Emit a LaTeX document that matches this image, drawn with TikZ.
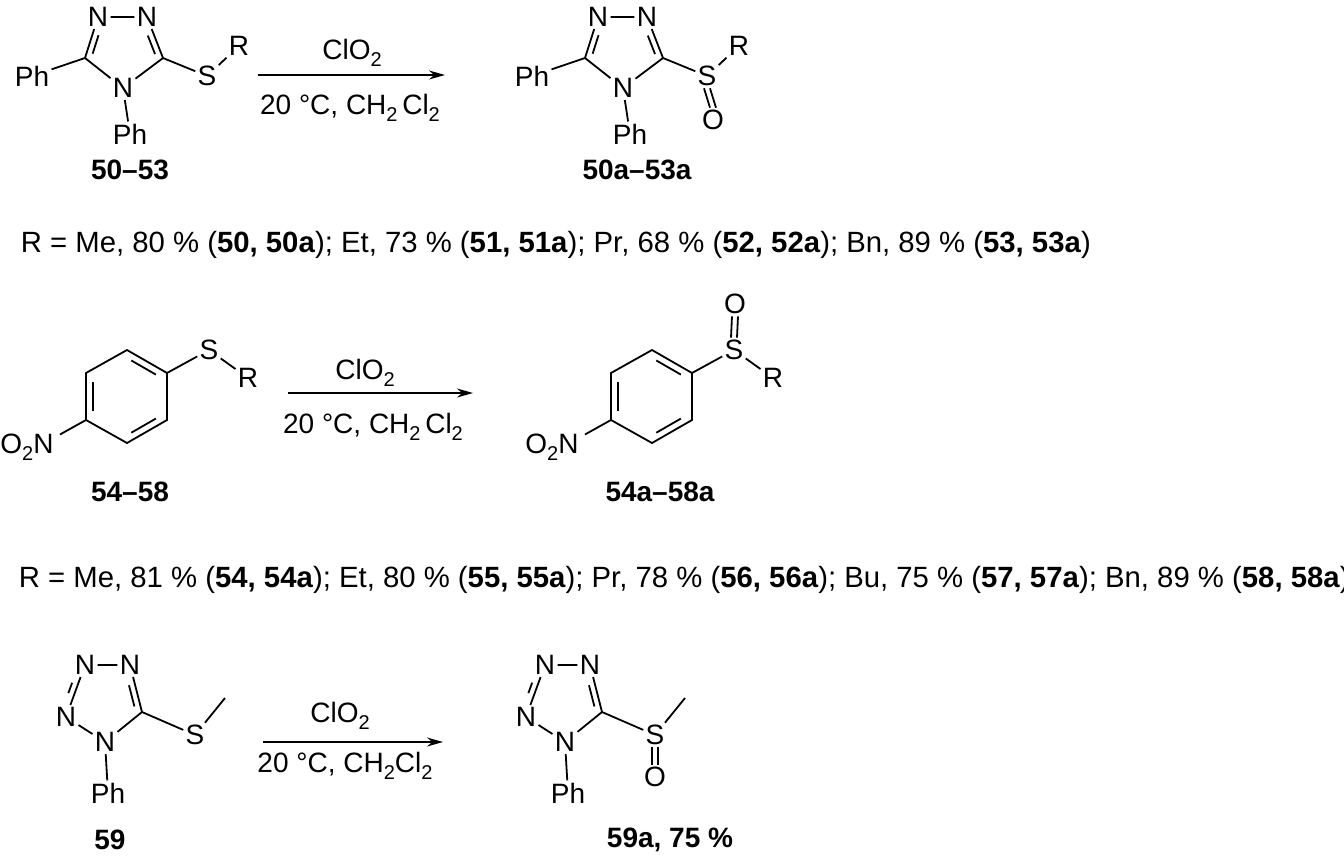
\documentclass[tikz,border=0pt]{standalone}
\usepackage{fontspec}
\setmainfont{Liberation Sans}
\usetikzlibrary{calc,arrows.meta}
\newcommand{\chsub}[1]{\raisebox{-0.45ex}{\fontsize{20}{20}\selectfont #1}}
\begin{document}
\begin{tikzpicture}[x=1pt,y=-1pt,line width=1.8pt,
  atom/.style={inner sep=1.5pt,font=\fontsize{28}{30}\selectfont},
  lab/.style={inner sep=0pt,font=\fontsize{28}{30}\selectfont\bfseries},
  txt/.style={inner sep=0pt,font=\fontsize{28}{30}\selectfont},
  line/.style={inner sep=0pt,font=\fontsize{29.3}{31}\selectfont},
  rxn/.style={-{Stealth[length=16pt,width=9pt]},line width=1.4pt}]
\useasboundingbox (0,0) rectangle (1344,860);
\fill[white] (0,0) rectangle (1344,860);
% ---------- triazoles
\foreach \pre/\dx in {a/0,b/500}{
\begin{scope}[shift={(\dx,0)},name prefix=\pre-]
\node[atom] (N1) at (98,17) {N};
\node[atom] (N2) at (147,17) {N};
\coordinate (C3) at (85,58);
\coordinate (C5) at (163,58);
\node[atom] (N4) at (123,88) {N};
\node[atom] (Pa) at (32,76) {Ph};
\node[atom] (Pb) at (130,134) {Ph};
\node[atom] (S) at (207,76) {S};
\node[atom] (R) at (239,46) {R};
\draw (N1)--(N2) (N1)--(C3) (N2)--(C5) (C3)--(N4) (C5)--(N4) (C3)--(Pa) (N4)--(Pb) (C5)--(S) (S)--(R);
\draw ($(C3)!0.15!(N1)!6pt!-90:(N1)$) -- ($(C3)!0.6!(N1)!6pt!-90:(N1)$);
\draw ($(C5)!0.15!(N2)!6pt!90:(N2)$) -- ($(C5)!0.6!(N2)!6pt!90:(N2)$);
\end{scope}}
\node[atom] (bO) at (713,120) {O};
\draw ([xshift=-3pt]b-S.south) -- ([xshift=-3pt]bO.north) ([xshift=3pt]b-S.south) -- ([xshift=3pt]bO.north);
\node[lab] (l1) at (130,170) {50–53};
\node[lab] (l2) at (637,170) {50a–53a};
\coordinate (a1) at (258,75); \coordinate (a2) at (445,75);
\draw[rxn] (a1) -- (a2);
\node[txt] (c1) at (352,53) {ClO\chsub{2}};
\node[txt] (d1) at (350,108) {20 °C, CH\chsub{2}\,Cl\chsub{2}};
\node[line,anchor=west] (t1) at (20,245) {R = Me, 80 \% (\textbf{50, 50a}); Et, 73 \% (\textbf{51, 51a}); Pr, 68 \% (\textbf{52, 52a}); Bn, 89 \% (\textbf{53, 53a})};
% ---------- benzenes
\foreach \pre/\dx in {c/0,d/525}{
\begin{scope}[shift={(\dx,0)},name prefix=\pre-]
\coordinate (r1) at (127,350); \coordinate (r2) at (167,373); \coordinate (r3) at (167,420);
\coordinate (r4) at (127,443); \coordinate (r5) at (86,420); \coordinate (r6) at (86,373);
\coordinate (ce) at (127,397);
\draw (r1)--(r2)--(r3)--(r4)--(r5)--(r6)--cycle;
\draw ($(ce)!0.83!(r1)!0.13!($(ce)!0.83!(r2)$)$) -- ($(ce)!0.83!(r1)!0.87!($(ce)!0.83!(r2)$)$);
\draw ($(ce)!0.83!(r5)!0.13!($(ce)!0.83!(r6)$)$) -- ($(ce)!0.83!(r5)!0.87!($(ce)!0.83!(r6)$)$);
\draw ($(ce)!0.83!(r3)!0.13!($(ce)!0.83!(r4)$)$) -- ($(ce)!0.83!(r3)!0.87!($(ce)!0.83!(r4)$)$);
\node[atom] (S) at (209,350) {S};
\node[atom] (R) at (248,378) {R};
\node[atom] (N) at (27,447) {O\chsub{2}N};
\draw (r2)--(S) (S)--(R) (r5)--([xshift=4pt,yshift=-3pt]N.north east);
\end{scope}}
\node[atom] (dO) at (735,304) {O};
\draw ([xshift=-3pt]d-S.north) -- ([xshift=-3pt]dO.south) ([xshift=3pt]d-S.north) -- ([xshift=3pt]dO.south);
\node[lab] (l3) at (130,492) {54–58};
\node[lab] (l4) at (660,492) {54a–58a};
\coordinate (a3) at (288,393); \coordinate (a4) at (473,393);
\draw[rxn] (a3) -- (a4);
\node[txt] (c2) at (365,373) {ClO\chsub{2}};
\node[txt] (d2) at (373,427) {20 °C, CH\chsub{2}\,Cl\chsub{2}};
\node[line,anchor=west] (t2) at (18,580) {R = Me, 81 \% (\textbf{54, 54a}); Et, 80 \% (\textbf{55, 55a}); Pr, 78 \% (\textbf{56, 56a}); Bu, 75 \% (\textbf{57, 57a}); Bn, 89 \% (\textbf{58, 58a})};
% ---------- tetrazoles
\foreach \pre/\dx in {e/0,f/460}{
\begin{scope}[shift={(\dx,0)},name prefix=\pre-]
\node[atom] (N3) at (85,665) {N};
\node[atom] (N4) at (130,665) {N};
\coordinate (C5) at (142,712);
\node[atom] (N1) at (105,742) {N};
\node[atom] (N2) at (66,717) {N};
\node[atom] (S) at (195,735) {S};
\coordinate (Me) at (225,698);
\node[atom] (P) at (108,793) {Ph};
\draw (N3)--(N4) (N4)--(C5) (C5)--(N1) (N1)--(N2) (N2)--(N3) (C5)--(S) (S)--(Me) (N1)--(P);
\draw ($(C5)!0.15!(N4)!6pt!90:(N4)$) -- ($(C5)!0.6!(N4)!6pt!90:(N4)$);
\draw ($(N2)!0.42!(N3)!6pt!90:(N3)$) -- ($(N2)!0.62!(N3)!6pt!90:(N3)$);
\end{scope}}
\node[atom] (fO) at (655,777) {O};
\draw ([xshift=-3pt]f-S.south) -- ([xshift=-3pt]fO.north) ([xshift=3pt]f-S.south) -- ([xshift=3pt]fO.north);
\node[lab] (l5) at (110,840) {59};
\node[lab] (l6) at (670,840) {59a, 75 \%};
\coordinate (a5) at (263,742); \coordinate (a6) at (443,742);
\draw[rxn] (a5) -- (a6);
\node[txt] (c3) at (340,716) {ClO\chsub{2}};
\node[txt] (d3) at (345,766) {20 °C, CH\chsub{2}Cl\chsub{2}};
\end{tikzpicture}
\end{document}
